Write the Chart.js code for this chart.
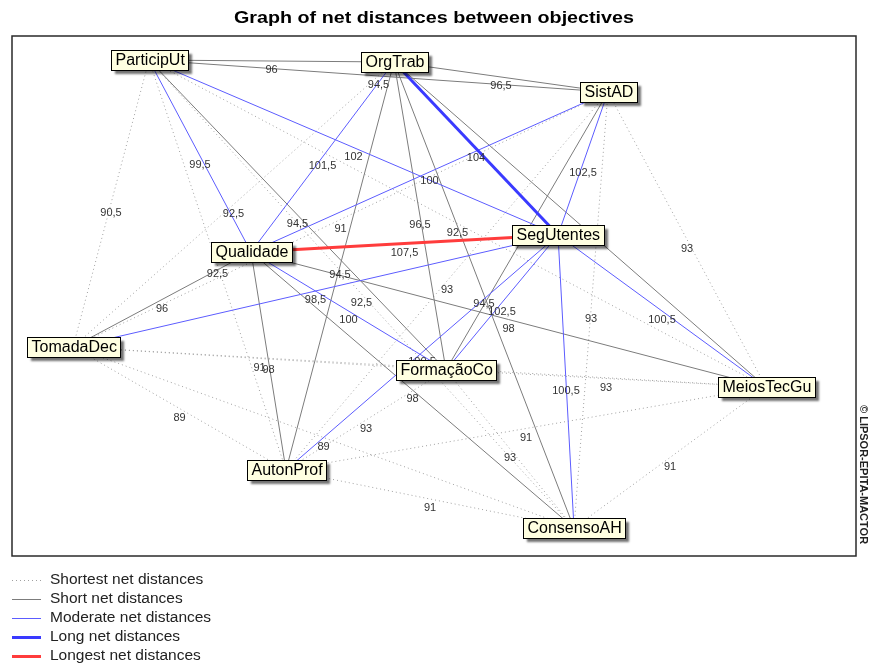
<!DOCTYPE html>
<html lang="en">
<head>
<meta charset="UTF-8">
<title>Graph of net distances between objectives</title>
<script src="https://cdn.jsdelivr.net/npm/chart.js"></script>
<style>
  body { margin: 0; background: #fff; }
</style>
</head>
<body>
<canvas id="netChart" width="869" height="666"></canvas>
<script>
// objectives and their place on the map (frame units, y going down)
const nodeNames = ['ParticipUt', 'OrgTrab', 'SistAD', 'SegUtentes', 'Qualidade', 'TomadaDec', 'FormaçãoCo', 'MeiosTecGu', 'AutonProf', 'ConsensoAH'];
const nodeX = [137, 382, 596, 546, 239, 61, 434, 754, 274, 562];
const nodeY = [24, 26, 56, 199, 216, 311, 334, 351, 434, 492];

// net distances, row i holds the pairs (i, j) with j > i
const netDistances = [
    [96, 94.5, 102, 99.5, 90.5, 94.5, 92.5, 92.5, 92.5],
    [96.5, 104, 101.5, 92.5, 96.5, 95, 94.5, 94.5],
    [102.5, 100, 91, 97, 93, 93, 93],
    [107.5, 98.5, 102.5, 100.5, 100.5, 100.5],
    [96, 100, 98, 98, 98],
    [91, 90, 89, 89],
    [93, 93, 93],
    [91, 91],
    [91]
];

const classNames = ['Shortest net distances', 'Short net distances', 'Moderate net distances', 'Long net distances', 'Longest net distances'];
const classLimits = [93, 98, 102.5, 104];

const classStyles = [
    { color: '#a0a0a0', width: 1, dash: [1, 3] },
    { color: '#7c7c7c', width: 1, dash: [] },
    { color: '#5c5cff', width: 1, dash: [] },
    { color: '#3a3aff', width: 3, dash: [] },
    { color: '#ff3c3c', width: 3, dash: [] }
];

function classOf(v) {
    let c = 0;
    while (c < classLimits.length && v > classLimits[c]) c++;
    return c;
}

function fmt(v) {
    return String(v).replace('.', ',');
}

const edges = [];
netDistances.forEach((row, i) => {
    row.forEach((v, k) => {
        const j = i + 1 + k;
        edges.push({ from: i, to: j, value: v, cls: classOf(v) });
    });
});

const datasets = edges.map(e => {
    const st = classStyles[e.cls];
    return {
        data: [{ x: nodeX[e.from], y: nodeY[e.from] }, { x: nodeX[e.to], y: nodeY[e.to] }],
        showLine: true,
        borderColor: st.color,
        borderWidth: st.width,
        borderDash: st.dash,
        pointRadius: 0,
        order: 10 - e.cls,
        edgeLabel: fmt(e.value)
    };
});

datasets.push({
    data: nodeNames.map((n, i) => ({ x: nodeX[i], y: nodeY[i] })),
    pointRadius: 0,
    showLine: false,
    order: 0,
    isNodes: true
});

const netPlugin = {
    id: 'netPlugin',
    beforeDatasetsDraw(chart) {
        const ctx = chart.ctx;
        const a = chart.chartArea;
        ctx.save();
        ctx.strokeStyle = '#2a2a2a';
        ctx.lineWidth = 1.5;
        ctx.strokeRect(a.left, a.top, a.right - a.left, a.bottom - a.top);
        ctx.restore();
    },
    afterDatasetsDraw(chart) {
        const ctx = chart.ctx;
        ctx.save();
        // distance labels
        ctx.font = '11px Arial';
        ctx.fillStyle = '#333';
        ctx.textAlign = 'center';
        ctx.textBaseline = 'middle';
        chart.data.datasets.forEach((ds, i) => {
            if (!ds.edgeLabel) return;
            const pts = chart.getDatasetMeta(i).data;
            const mx = (pts[0].x + pts[1].x) / 2;
            const my = (pts[0].y + pts[1].y) / 2;
            ctx.fillText(ds.edgeLabel, mx, my + 9);
        });

        // node boxes
        const nodeIdx = chart.data.datasets.findIndex(d => d.isNodes);
        const pts = chart.getDatasetMeta(nodeIdx).data;
        ctx.font = '16px Arial';
        ctx.textAlign = 'left';
        pts.forEach((p, i) => {
            const w = Math.round(ctx.measureText(nodeNames[i]).width) + 8;
            const h = 20;
            const x = Math.round(p.x - w / 2) + 0.5;
            const y = Math.round(p.y - h / 2) + 0.5;
            ctx.save();
            ctx.shadowColor = 'rgba(0,0,0,0.55)';
            ctx.shadowBlur = 2;
            ctx.shadowOffsetX = 3;
            ctx.shadowOffsetY = 3;
            ctx.fillStyle = '#ffffe1';
            ctx.fillRect(x, y, w, h);
            ctx.restore();
            ctx.strokeStyle = '#000';
            ctx.lineWidth = 1;
            ctx.strokeRect(x, y, w, h);
            ctx.fillStyle = '#000';
            ctx.fillText(nodeNames[i], x + 4, p.y + 1);
        });
        ctx.restore();
    },
    afterDraw(chart) {
        const ctx = chart.ctx;
        ctx.save();
        // title, stretched a little to the width of the original wide face
        ctx.font = 'bold 17px Arial';
        ctx.fillStyle = '#000';
        ctx.textAlign = 'center';
        ctx.textBaseline = 'middle';
        const title = 'Graph of net distances between objectives';
        const tw = ctx.measureText(title).width;
        ctx.save();
        ctx.translate(434, 18);
        ctx.scale(400 / tw, 1);
        ctx.fillText(title, 0, 0);
        ctx.restore();

        // legend
        ctx.font = '15.5px Arial';
        ctx.textAlign = 'left';
        classNames.forEach((name, i) => {
            const st = classStyles[i];
            const y = 580 + 19 * i;
            ctx.beginPath();
            ctx.strokeStyle = st.color;
            ctx.lineWidth = st.width;
            ctx.setLineDash(st.dash);
            ctx.moveTo(12, y + 0.5);
            ctx.lineTo(41, y + 0.5);
            ctx.stroke();
            ctx.setLineDash([]);
            ctx.fillStyle = '#222';
            ctx.fillText(name, 50, y);
        });

        // copyright, written downwards
        ctx.translate(863, 405);
        ctx.rotate(Math.PI / 2);
        ctx.font = 'bold 11px Arial';
        ctx.fillStyle = '#222';
        ctx.textBaseline = 'middle';
        ctx.fillText('© LIPSOR-EPITA-MACTOR', 0, 0);
        ctx.restore();
    }
};

new Chart(document.getElementById('netChart'), {
    type: 'scatter',
    data: { datasets: datasets },
    options: {
        responsive: false,
        animation: false,
        layout: { padding: { left: 12, top: 36, right: 13, bottom: 110 } },
        plugins: {
            legend: { display: false },
            tooltip: { enabled: false }
        },
        scales: {
            x: { type: 'linear', min: 0, max: 844, display: false },
            y: { type: 'linear', min: 0, max: 520, reverse: true, display: false }
        }
    },
    plugins: [netPlugin]
});
</script>
</body>
</html>
